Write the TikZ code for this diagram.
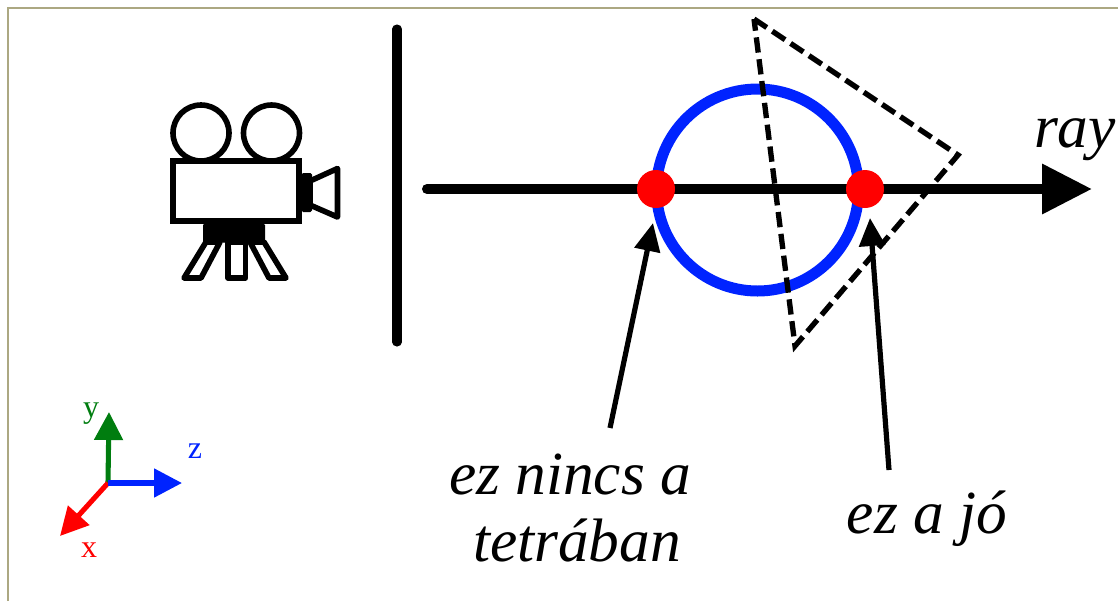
\documentclass[tikz,border=0pt]{standalone}
\usepackage{fontspec}
\setmainfont{Liberation Serif}
\usetikzlibrary{arrows.meta}
\definecolor{frameC}{RGB}{172,168,130}
\definecolor{axisG}{RGB}{0,125,15}
\definecolor{axisB}{RGB}{0,35,255}
\tikzset{
  x=0.75pt,y=-0.75pt,
  blackline/.style={draw=black,line cap=round,line join=round},
  camline/.style={blackline,fill=white,line width=4.2pt},
  camfill/.style={draw=black,fill=black,line width=0.75pt,rounded corners=1pt},
  pointer/.style={blackline,line cap=butt,line width=3.9pt,-{Triangle[length=21pt,width=19pt]}},
  axisarrow/.style={line width=3.8pt,-{Triangle[length=21pt,width=21pt]}},
  biglabel/.style={font=\fontsize{46}{50}\selectfont\itshape,inner sep=0pt,anchor=base},
  axislabel/.style={font=\fontsize{24}{26}\selectfont,inner sep=0pt,anchor=base},
  dot/.style={circle,fill=red,minimum size=28.5pt,inner sep=0pt},
}
\begin{document}
\begin{tikzpicture}
\useasboundingbox (0,0) rectangle (1118,601);
% frame
\draw[frameC,line width=2pt] (8,601) -- (8,8) -- (1118,8);
% camera
\draw[camline] (201,133) circle (28);
\draw[camline] (271.5,133) circle (28);
\draw[camline] (206,242) -- (184,278) -- (201,278) -- (220,242) -- cycle;
\draw[camline] (228,242) -- (228,278) -- (245.5,278) -- (245.5,242) -- cycle;
\draw[camline] (250,242) -- (269,278) -- (286,278) -- (264,242) -- cycle;
\draw[camfill] (203.5,224) rectangle (264.5,242);
\draw[camfill] (302,173.5) rectangle (311.5,211.5);
\draw[camline] (310,181) -- (337.5,168.5) -- (337.5,217) -- (310,205) -- cycle;
\draw[camline,line join=miter] (172.8,160.8) rectangle (299.2,221.2);
% screen
\draw[blackline,line width=6.8pt] (397,29) -- (397,342);
% sphere
\node[circle,draw=axisB,line width=8.25pt,minimum size=151.5pt,inner sep=0pt] (sphere) at (757.5,190) {};
% triangle
\draw[blackline,line join=miter,line cap=butt,line width=4pt,dash pattern=on 11.5pt off 5pt] (754,19) -- (958,155) -- (795,346) -- cycle;
% ray
\coordinate (rayStart) at (427,189);
\coordinate (rayEnd) at (1092,189);
\draw[blackline,line width=7.5pt,-{Triangle[length=37.5pt,width=36pt]}] (rayStart) -- (rayEnd);
\node[dot] (hitA) at (656,189) {};
\node[dot] (hitB) at (865,189) {};
\node[biglabel] (rayL) at (1075,147) {ray};
% labels
\node[biglabel] (labA) at (570,494) {ez nincs a};
\node[biglabel] (labB) at (577,561) {tetrában};
\node[biglabel] (labC) at (927,533) {ez a jó};
\coordinate (fromA) at (610,428);
\coordinate (tipA) at (653,223);
\coordinate (fromC) at (889,470);
\coordinate (tipC) at (870,218);
\draw[pointer] (fromA) -- (tipA);
\draw[pointer] (fromC) -- (tipC);
% axes
\coordinate (orig) at (108,483);
\coordinate (yTip) at (109,412);
\coordinate (zTip) at (182,483);
\coordinate (xTip) at (60,536);
\draw[axisarrow,axisG] (orig) -- (yTip);
\draw[axisarrow,red] (orig) -- (xTip);
\draw[axisarrow,axisB] (orig) -- (zTip);
\node[axislabel,text=axisG] (yL) at (91,417) {y};
\node[axislabel,text=axisB] (zL) at (195,458) {z};
\node[axislabel,text=red] (xL) at (89,557) {x};
\end{tikzpicture}
\end{document}
